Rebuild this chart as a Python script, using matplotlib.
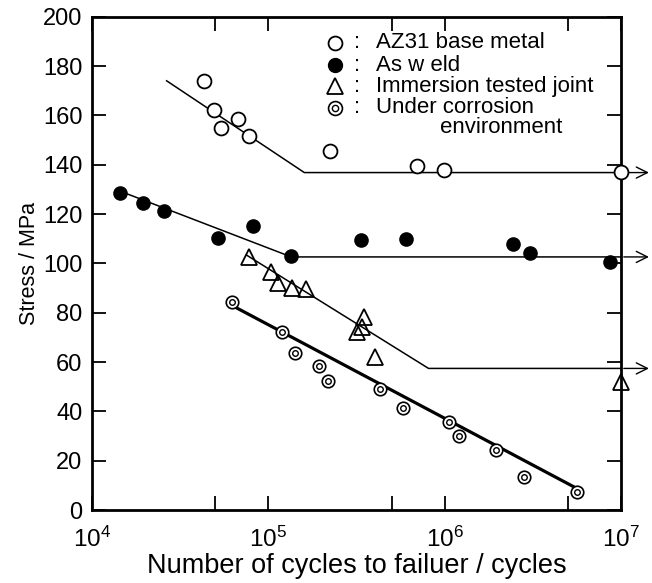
import matplotlib
matplotlib.use("Agg")
import matplotlib.pyplot as plt
import matplotlib.transforms as mtransforms

plt.rcParams['font.family'] = ['Liberation Sans', 'DejaVu Sans']
plt.rcParams['mathtext.fontset'] = 'custom'
plt.rcParams['mathtext.rm'] = 'Liberation Sans'
plt.rcParams['mathtext.it'] = 'Liberation Sans'

# ---- data ----
# AZ31 base metal (open circles)
base_n = [4.3e4, 4.9e4, 5.4e4, 6.7e4, 7.8e4, 2.24e5, 7.0e5, 9.95e5, 1.0e7]
base_s = [174, 162, 155, 158.5, 151.5, 145.5, 139.5, 138, 137]
base_fit_n = [2.65e4, 1.6e5, 1.0e7]
base_fit_s = [174, 136.8, 136.8]

# As weld (filled circles)
weld_n = [1.45e4, 1.95e4, 2.56e4, 5.2e4, 8.2e4, 1.35e5, 3.36e5, 6.0e5, 2.45e6, 3.05e6, 8.7e6]
weld_s = [128.4, 124.3, 121.3, 110.4, 115.1, 103, 109.4, 109.7, 107.8, 104, 100.7]
weld_fit_n = [1.5e4, 1.35e5, 1.0e7]
weld_fit_s = [128.8, 102.6, 102.6]

# Immersion tested joint (open triangles)
imm_n = [7.8e4, 1.03e5, 1.13e5, 1.37e5, 1.63e5, 3.5e5, 3.2e5, 3.4e5, 4.0e5, 1.0e7]
imm_s = [102.4, 96.6, 91.9, 89.9, 89.5, 78.4, 72.3, 74, 62.1, 52]
imm_fit_n = [7.5e4, 8.1e5, 1.0e7]
imm_fit_s = [103.4, 57.4, 57.4]

# Under corrosion environment (double circles)
cor_n = [6.25e4, 1.19e5, 1.42e5, 1.94e5, 2.17e5, 4.3e5, 5.8e5, 1.06e6, 1.21e6, 1.95e6, 2.8e6, 5.6e6]
cor_s = [84.4, 72.3, 63.5, 58.5, 52.3, 49, 41.5, 35.8, 30, 24.3, 13.5, 7.4]
cor_fit_n = [5.9e4, 5.6e6]
cor_fit_s = [83.8, 8.8]

# run-out levels marked with arrows
runout_s = [136.8, 102.6, 57.4]

legend_labels = ["AZ31 base metal", "As w eld", "Immersion tested joint", "Under corrosion"]

fig = plt.figure(figsize=(6.52, 5.83), dpi=100)
ax = fig.add_axes([0.1411, 0.1252, 0.8114, 0.8462])

# fitted lines
ax.plot(base_fit_n, base_fit_s, color='black', lw=1.1)
ax.plot(weld_fit_n, weld_fit_s, color='black', lw=1.1)
ax.plot(imm_fit_n, imm_fit_s, color='black', lw=1.1)
ax.plot(cor_fit_n, cor_fit_s, color='black', lw=2.3)

# points
ax.plot(base_n, base_s, 'o', ms=10, mfc='white', mec='black', mew=1.3, clip_on=False, zorder=5)
ax.plot(weld_n, weld_s, 'o', ms=9.5, mfc='black', mec='black', clip_on=False, zorder=5)
ax.plot(imm_n, imm_s, '^', ms=11, mfc='none', mec='black', mew=1.3, clip_on=False, zorder=5)
ax.plot(cor_n, cor_s, 'o', ms=9, mfc='white', mec='black', mew=1.2, clip_on=False, zorder=5)
ax.plot(cor_n, cor_s, 'o', ms=4, mfc='white', mec='black', mew=1.0, clip_on=False, zorder=6)

# run-out arrows outside right axis
trans = mtransforms.blended_transform_factory(ax.transAxes, ax.transData)
for s in runout_s:
    ax.annotate('', xy=(1.058, s), xycoords=trans, xytext=(1.0, s), textcoords=trans,
                arrowprops=dict(arrowstyle='->', lw=1.0, color='black', mutation_scale=20),
                annotation_clip=False)

# hand-made legend
lx, cx, tx = 0.459, 0.501, 0.537
ly = [0.947, 0.902, 0.859, 0.815]
ax.plot(lx, ly[0], 'o', ms=10, mfc='white', mec='black', mew=1.3, transform=ax.transAxes)
ax.plot(lx, ly[1], 'o', ms=10, mfc='black', mec='black', transform=ax.transAxes)
ax.plot(lx, ly[2], '^', ms=11, mfc='none', mec='black', mew=1.3, transform=ax.transAxes)
ax.plot(lx, ly[3], 'o', ms=10, mfc='white', mec='black', mew=1.2, transform=ax.transAxes)
ax.plot(lx, ly[3], 'o', ms=4.5, mfc='white', mec='black', mew=1.0, transform=ax.transAxes)
for y, lab in zip(ly, legend_labels):
    ax.text(cx, y, ':', transform=ax.transAxes, fontsize=16, va='center', ha='center')
    ax.text(tx, y, lab, transform=ax.transAxes, fontsize=16, va='center', ha='left')
ax.text(0.658, 0.776, 'environment', transform=ax.transAxes, fontsize=16, va='center', ha='left')

# axes
ax.set_xscale('log')
ax.set_xlim(1e4, 1e7)
ax.set_ylim(0, 200)
ax.set_xticks([1e4, 1e5, 1e6, 1e7])
ax.set_xticklabels([r'$10^{4}$', r'$10^{5}$', r'$10^{6}$', r'$10^{7}$'])
ax.set_xticks([5e4, 1e5, 5e5, 1e6, 5e6], minor=True)
ax.set_yticks(range(0, 201, 20))
ax.tick_params(axis='both', which='both', direction='in', top=True, right=True,
               length=10, width=1.3, labelsize=17)
ax.tick_params(axis='y', pad=7)
ax.tick_params(axis='x', which='major', pad=12, labelsize=17.5)
for sp in ax.spines.values():
    sp.set_linewidth(2)

ax.set_xlabel('Number of cycles to failuer / cycles', fontsize=19.5, labelpad=1)
ax.set_ylabel('Stress / MPa', fontsize=15.5, labelpad=2)

fig.savefig('out.png', dpi=100)
